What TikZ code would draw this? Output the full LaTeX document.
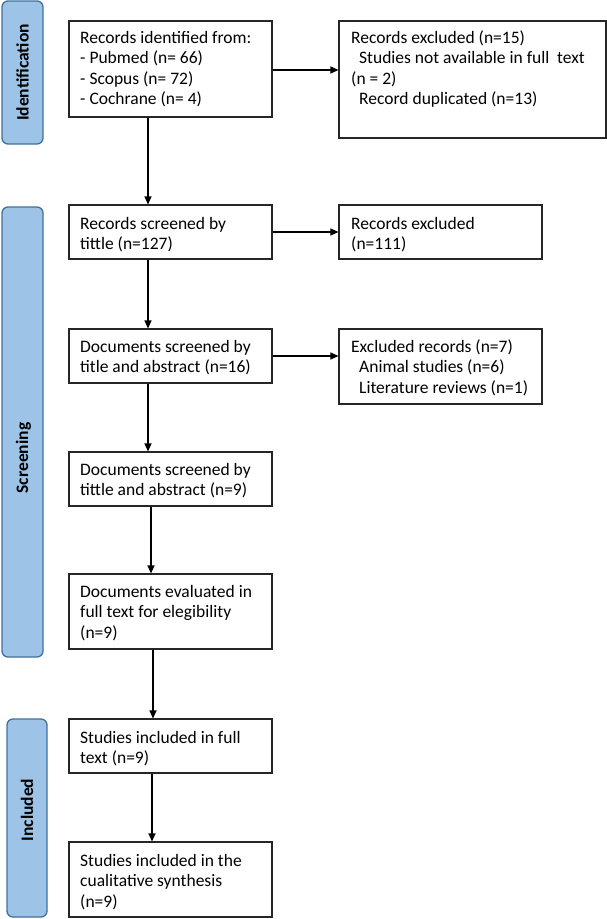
\documentclass[tikz,border=0pt]{standalone}
\usepackage{fontspec}
\setmainfont{Carlito}
\usetikzlibrary{arrows.meta}
\newcommand{\fs}{\fontsize{17.5pt}{20.5pt}\selectfont}
\newcommand{\ind}{\hspace*{8pt}}
\tikzset{
  phase/.style={draw=phaseborder, fill=phasefill, line width=1.3pt, rounded corners=6pt},
  phaselbl/.style={rotate=90, font=\fontsize{17.5pt}{20pt}\selectfont\bfseries, inner sep=0pt},
  boxx/.style={draw=black!85, line width=1.1pt},
  lbl/.style={anchor=north west, inner sep=0pt, align=left, font=\fs},
  arr/.style={line width=1.2pt, -{Triangle[length=8pt,width=7pt]}}
}
\definecolor{phasefill}{HTML}{9DC3E6}
\definecolor{phaseborder}{HTML}{41719C}
\begin{document}
\begin{tikzpicture}[x=1pt,y=-1pt]
\useasboundingbox (0,0) rectangle (607,919);
% phases
\draw[phase] (2,1) rectangle (43,144);
\node[phaselbl] (pid) at (22.5,72.5) {Identification};
\draw[phase] (2,207) rectangle (43,657);
\node[phaselbl] (psc) at (23.5,458) {Screening};
\draw[phase] (7,719) rectangle (47,917);
\node[phaselbl] (pin) at (27,810) {Included};
% left boxes
\node[boxx, minimum width=203pt, minimum height=96pt, inner sep=0pt] (b1) at (170.5,69) {};
\node[boxx, minimum width=203pt, minimum height=54pt, inner sep=0pt] (b2) at (170.5,232) {};
\node[boxx, minimum width=203pt, minimum height=54pt, inner sep=0pt] (b3) at (170.5,356) {};
\node[boxx, minimum width=203pt, minimum height=54pt, inner sep=0pt] (b4) at (170.5,479) {};
\node[boxx, minimum width=203pt, minimum height=75pt, inner sep=0pt] (b5) at (170.5,611.5) {};
\node[boxx, minimum width=203pt, minimum height=54pt, inner sep=0pt] (b6) at (170.5,746) {};
\node[boxx, minimum width=203pt, minimum height=75pt, inner sep=0pt] (b7) at (170.5,879.5) {};
% right boxes
\node[boxx, minimum width=267pt, minimum height=117pt, inner sep=0pt] (r1) at (472.5,79.5) {};
\node[boxx, minimum width=203pt, minimum height=54pt, inner sep=0pt] (r2) at (440.5,232) {};
\node[boxx, minimum width=203pt, minimum height=75pt, inner sep=0pt] (r3) at (440.5,366.5) {};
% texts
\node[lbl] (t1) at (80,43-14.35) {\strut Records identified from:\\- Pubmed (n= 66)\\- Scopus (n= 72)\\- Cochrane (n= 4)};
\node[lbl] (t2) at (80,229-14.35) {\strut Records screened by\\tittle (n=127)};
\node[lbl] (t3) at (80,352-14.35) {\strut Documents screened by\\title and abstract (n=16)};
\node[lbl] (t4) at (80,475-14.35) {\strut Documents screened by\\tittle and abstract (n=9)};
\node[lbl] (t5) at (80,597-14.35) {\strut Documents evaluated in\\full text for elegibility\\(n=9)};
\node[lbl] (t6) at (80,743-14.35) {\strut Studies included in full\\text (n=9)};
\node[lbl] (t7) at (80,866-14.35) {\strut Studies included in the\\cualitative synthesis\\(n=9)};
\node[lbl] (u1) at (351,43-14.35) {\strut Records excluded (n=15)\\\ind Studies not available in full\ \ text\\(n = 2)\\\ind Record duplicated (n=13)};
\node[lbl] (u2) at (351,229-14.35) {\strut Records excluded\\(n=111)};
\node[lbl] (u3) at (351,352-14.35) {\strut Excluded records (n=7)\\\ind Animal studies (n=6)\\\ind Literature reviews (n=1)};
% arrows
\draw[arr] (b1.east |- 0,70) -- (r1.west |- 0,70);
\draw[arr] (b2.east) -- (r2.west);
\draw[arr] (b3.east) -- (r3.west |- b3.east);
\draw[arr] (b1.south -| 148,0) -- (b2.north -| 148,0);
\draw[arr] (b2.south -| 148,0) -- (b3.north -| 148,0);
\draw[arr] (b3.south -| 148,0) -- (b4.north -| 148,0);
\draw[arr] (b4.south -| 151,0) -- (b5.north -| 151,0);
\draw[arr] (b5.south -| 153,0) -- (b6.north -| 153,0);
\draw[arr] (b6.south -| 152,0) -- (b7.north -| 152,0);
\end{tikzpicture}
\end{document}
